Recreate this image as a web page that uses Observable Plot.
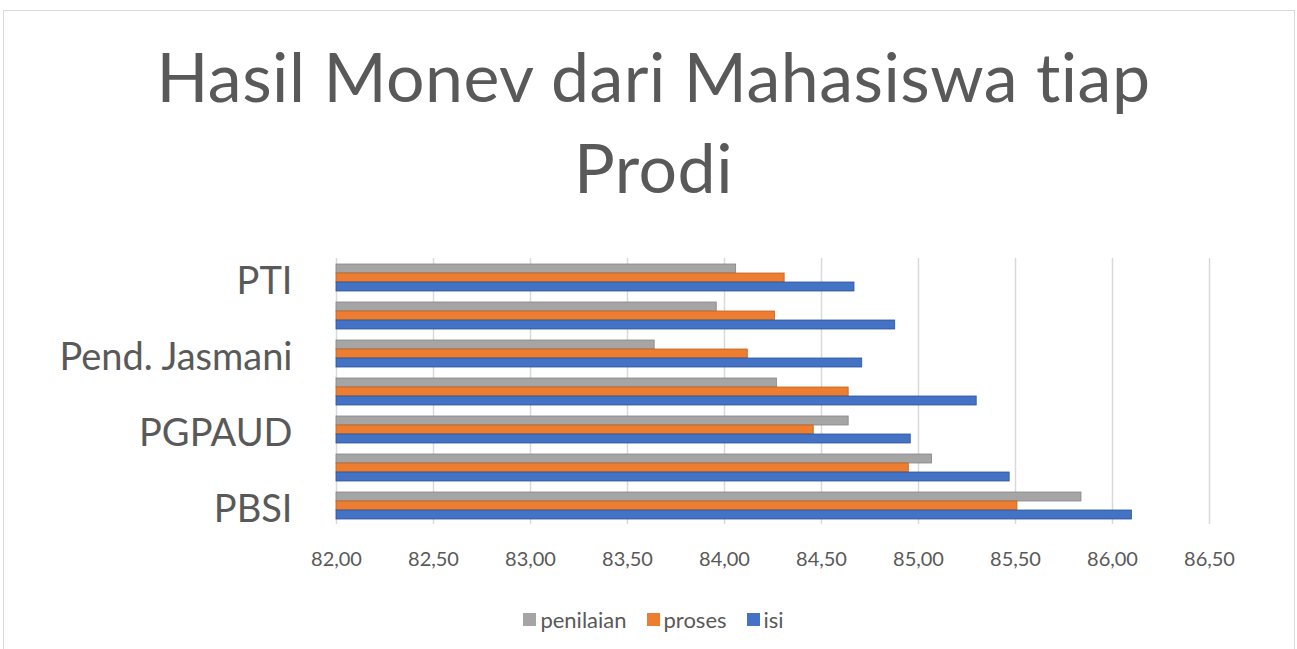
<!DOCTYPE html>
<html>
<head>
<meta charset="utf-8">
<script src="https://cdn.jsdelivr.net/npm/d3@7"></script>
<script src="https://cdn.jsdelivr.net/npm/@observablehq/plot@0.6"></script>
<style>
  html, body { margin: 0; padding: 0; background: #fff; }
  body { width: 1297px; height: 649px; position: relative; overflow: hidden; font-family: Lato, "Open Sans", sans-serif; }
  #frame { position: absolute; left: 3px; top: 10px; width: 1292px; height: 660px; border: 1px solid #d9d9d9; box-sizing: border-box; }
  #title { position: absolute; left: 5px; top: 30px; width: 1297px; text-align: center; color: #595959; font-size: 68px; line-height: 91px; letter-spacing: 0.5px; }
  #chart { position: absolute; left: 0; top: 240px; }
  #legend { position: absolute; left: 5px; top: 606px; width: 1297px; display: flex; justify-content: center; align-items: center; color: #595959; font-size: 22px; }
  .item { display: flex; align-items: center; margin: 0 10px; }
  .sw { width: 13px; height: 13px; margin-right: 4px; }
</style>
</head>
<body>
<div id="frame"></div>
<div id="title">Hasil Monev dari Mahasiswa tiap<br>Prodi</div>
<div id="chart"></div>
<div id="legend"></div>
<script>
// Categories, bottom to top as in the source chart (every other label is hidden there)
const prodi = ["PBSI", "Prodi 2", "PGPAUD", "Prodi 4", "Pend. Jasmani", "Prodi 6", "PTI"];
const shownLabels = ["PBSI", "PGPAUD", "Pend. Jasmani", "PTI"];
// Series values
const isi       = [86.10, 85.47, 84.96, 85.30, 84.71, 84.88, 84.67];
const proses    = [85.51, 84.95, 84.46, 84.64, 84.12, 84.26, 84.31];
const penilaian = [85.84, 85.07, 84.64, 84.27, 83.64, 83.96, 84.06];
// Series (legend order) and colours
const seriesNames = ["penilaian", "proses", "isi"];
const seriesColors = ["#A5A5A5", "#ED7D31", "#4472C4"];
const seriesEdges = ["#858585", "#c2611f", "#2f5597"];
// Axis
const xMin = 82, xMax = 86.5;
const xTicks = [82, 82.5, 83, 83.5, 84, 84.5, 85, 85.5, 86, 86.5];
const xTickLabels = ["82,00", "82,50", "83,00", "83,50", "84,00", "84,50", "85,00", "85,50", "86,00", "86,50"];

const seriesValues = {penilaian, proses, isi};
const data = [];
prodi.forEach((p, i) => {
  seriesNames.forEach(s => data.push({prodi: p, series: s, value: seriesValues[s][i]}));
});

const chart = Plot.plot({
  width: 1297,
  height: 340,
  marginTop: 15,
  marginBottom: 54,
  marginLeft: 336,
  marginRight: 88,
  style: {fontFamily: "Lato, 'Open Sans', sans-serif", color: "#595959", background: "transparent"},
  x: {domain: [xMin, xMax]},
  fy: {domain: prodi.slice().reverse(), padding: 0},
  y: {domain: seriesNames, paddingInner: 0, paddingOuter: 0.6},
  color: {domain: seriesNames, range: seriesColors},
  marks: [
    Plot.gridX(xTicks, {stroke: "#d9d9d9", strokeOpacity: 1, strokeWidth: 1.5}),
    Plot.barX(data, {
      fy: "prodi", y: "series", x1: xMin, x2: "value",
      fill: "series",
      stroke: d => seriesEdges[seriesNames.indexOf(d.series)],
      strokeWidth: 0.8
    }),
    Plot.axisX(xTicks, {
      tickSize: 0, tickPadding: 27, fontSize: 20, fill: "#595959",
      tickFormat: d => xTickLabels[xTicks.indexOf(d)], label: null
    }),
    Plot.axisY({ticks: [], label: null}),
    Plot.axisFy({
      ticks: shownLabels,
      anchor: "left", tickSize: 0, tickPadding: 44, fontSize: 38, fill: "#595959",
      dy: 4, label: null
    })
  ]
});
document.getElementById("chart").appendChild(chart);

const legend = document.getElementById("legend");
seriesNames.forEach((s, i) => {
  const item = document.createElement("div");
  item.className = "item";
  const sw = document.createElement("div");
  sw.className = "sw";
  sw.style.background = seriesColors[i];
  const t = document.createElement("span");
  t.textContent = s;
  item.appendChild(sw);
  item.appendChild(t);
  legend.appendChild(item);
});
</script>
</body>
</html>
